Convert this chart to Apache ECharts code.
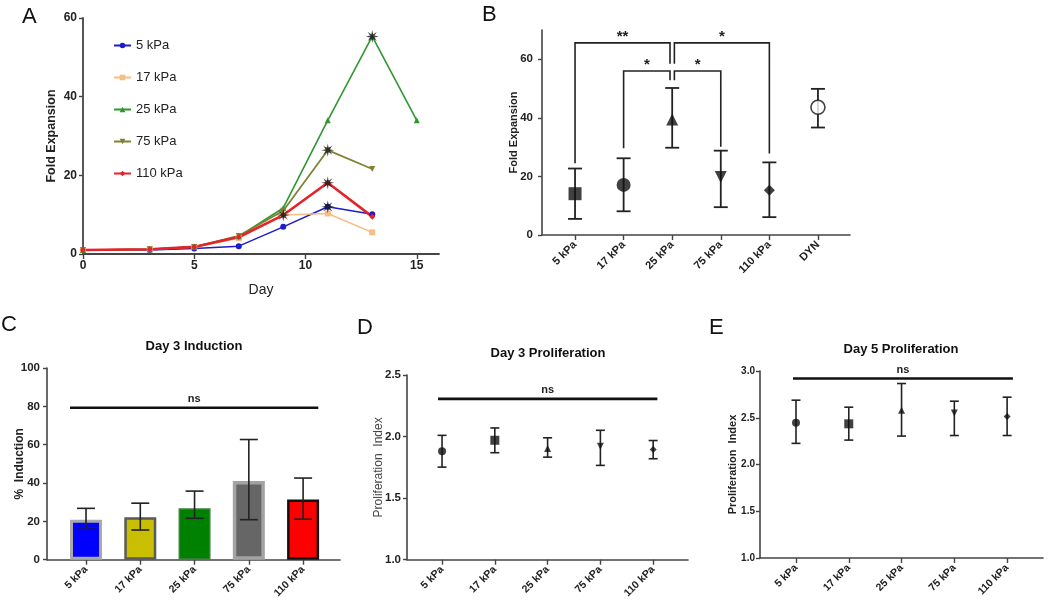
<!DOCTYPE html>
<html><head><meta charset="utf-8">
<script src="https://cdn.jsdelivr.net/npm/echarts@6/dist/echarts.min.js"></script>
<style>html,body{margin:0;padding:0;background:#fff}#c{width:1050px;height:601px}</style>
</head><body><div id="c"></div>
<script>
const FONT = '"Liberation Sans", Arial, sans-serif';

// ---------- Panel A: fold expansion over time ----------
const aDays = [0, 3, 5, 7, 9, 11, 13, 15];
const aNames = ['5 kPa', '17 kPa', '25 kPa', '75 kPa', '110 kPa'];
const a5   = [1.0, 1.0, 1.4, 2.0, 6.9, 12.0, 10.1];
const a17  = [1.0, 1.2, 1.8, 4.0, 9.9, 10.3, 5.5];
const a25  = [1.0, 1.2, 1.8, 4.5, 11.7, 34.0, 55.3, 34.0];
const a75  = [1.0, 1.2, 1.8, 4.6, 11.0, 26.4, 21.6];
const a110 = [1.0, 1.2, 1.8, 4.3, 9.9, 18.1, 9.5];
const aStarDays = { '5 kPa': [11], '25 kPa': [13], '75 kPa': [11], '110 kPa': [9, 11] };
const aXTicks = [0, 5, 10, 15];

// ---------- Panel B: fold expansion by stiffness ----------
const bCats = ['5 kPa', '17 kPa', '25 kPa', '75 kPa', '110 kPa', 'DYN'];
const bMean = [14.1, 17.1, 39.4, 19.8, 15.3, 43.6];
const bLow  = [5.5, 8.1, 29.8, 9.5, 6.1, 36.7];
const bHigh = [22.7, 26.2, 50.2, 28.8, 24.8, 49.9];
const bYTicks = [0, 20, 40, 60];
// [xStart, xEnd, yTop, yLeftFoot, yRightFoot]
const bBrackets = [[0, 1.955, 65.6, 24.5, 58.5], [2.045, 4, 65.6, 58.5, 27.8], [1, 1.955, 56.0, 29.6, 52.8], [2.045, 3, 56.0, 52.8, 30.1]];
const bBracketLabels = ['**', '*', '*', '*'];

// ---------- Panel C: day 3 induction ----------
const cCats = ['5 kPa', '17 kPa', '25 kPa', '75 kPa', '110 kPa'];
const cMean = [20.9, 22.1, 26.9, 41.1, 31.4];
const cLow  = [16.7, 15.5, 21.6, 20.9, 21.2];
const cHigh = [26.8, 29.5, 35.8, 62.7, 42.6];
const cNs = [[-0.295, 4.28, 79.3]];

// ---------- Panel D: day 3 proliferation ----------
const dCats = ['5 kPa', '17 kPa', '25 kPa', '75 kPa', '110 kPa'];
const dMean = [1.881, 1.970, 1.903, 1.922, 1.895];
const dLow  = [1.752, 1.869, 1.833, 1.766, 1.820];
const dHigh = [2.010, 2.070, 1.990, 2.051, 1.968];
const dNs = [[-0.076, 4.08, 2.306]];

// ---------- Panel E: day 5 proliferation ----------
const eCats = ['5 kPa', '17 kPa', '25 kPa', '75 kPa', '110 kPa'];
const eMean = [2.446, 2.435, 2.581, 2.552, 2.513];
const eLow  = [2.226, 2.261, 2.304, 2.310, 2.310];
const eHigh = [2.688, 2.613, 2.866, 2.677, 2.720];
const eNs = [[-0.057, 4.11, 2.92]];

// ---------- styling helpers ----------
const INV_TRI = 'path://M0,0L10,0L5,9Z';
const STAR = (function () {
  const p = [];
  for (let i = 0; i < 16; i++) {
    const a = i * Math.PI / 8, r = i % 2 ? 3.6 : 10;
    p.push((10 + r * Math.cos(a)).toFixed(2) + ',' + (10 + r * Math.sin(a)).toFixed(2));
  }
  return 'path://M' + p.join('L') + 'Z';
})();
const catSymbols = ['rect', 'circle', 'triangle', INV_TRI, 'diamond'];
const AX = '#444';

function xCatAxis(gi, min, max, cats, fs) {
  const idx = cats.map((_, i) => i);
  return {
    type: 'value', gridIndex: gi, min: min, max: max,
    splitLine: { show: false },
    axisLine: { onZero: false, lineStyle: { color: AX, width: 1.6 } },
    axisTick: { customValues: idx, length: 5, lineStyle: { color: AX, width: 1.4 } },
    axisLabel: { customValues: idx, formatter: v => cats[Math.round(v)], rotate: 45, margin: 8,
      fontFamily: FONT, fontWeight: 'bold', fontSize: fs, color: '#222' }
  };
}
function yValAxis(gi, opt, name, nameStyle, gap) {
  return Object.assign({
    type: 'value', gridIndex: gi,
    splitLine: { show: false },
    axisLine: { show: true, onZero: false, lineStyle: { color: AX, width: 1.6 } },
    axisTick: { show: true, length: 4, lineStyle: { color: AX, width: 1.4 } },
    axisLabel: { fontFamily: FONT, fontWeight: 'bold', fontSize: 11.5, color: '#222', margin: 7 },
    name: name, nameLocation: 'middle', nameGap: gap, nameRotate: 90, nameMoveOverlap: false,
    nameTextStyle: Object.assign({ fontFamily: FONT }, nameStyle)
  }, opt);
}
function errSeries(ax, low, high, cap, lw) {
  return {
    type: 'custom', xAxisIndex: ax, yAxisIndex: ax, z: 3,
    data: low.map((l, i) => [i, l, high[i]]),
    encode: { x: 0, y: [1, 2] },
    renderItem: function (params, api) {
      const x = api.value(0);
      const pH = api.coord([x, api.value(2)]), pL = api.coord([x, api.value(1)]);
      const st = { stroke: '#222', lineWidth: lw };
      return { type: 'group', children: [
        { type: 'line', shape: { x1: pH[0], y1: pH[1], x2: pL[0], y2: pL[1] }, style: st },
        { type: 'line', shape: { x1: pH[0] - cap, y1: pH[1], x2: pH[0] + cap, y2: pH[1] }, style: st },
        { type: 'line', shape: { x1: pL[0] - cap, y1: pL[1], x2: pL[0] + cap, y2: pL[1] }, style: st }
      ] };
    }
  };
}
function nsSeries(ax, ns) {
  return {
    type: 'custom', xAxisIndex: ax, yAxisIndex: ax, z: 4,
    data: ns, encode: { x: [0, 1], y: 2 },
    renderItem: function (params, api) {
      const p1 = api.coord([api.value(0), api.value(2)]), p2 = api.coord([api.value(1), api.value(2)]);
      return { type: 'group', children: [
        { type: 'line', shape: { x1: p1[0], y1: p1[1], x2: p2[0], y2: p2[1] }, style: { stroke: '#111', lineWidth: 2.6 } },
        { type: 'text', x: (p1[0] + p2[0]) / 2, y: p1[1] - 3,
          style: { text: 'ns', textAlign: 'center', textVerticalAlign: 'bottom', font: 'bold 11px ' + FONT, fill: '#222' } }
      ] };
    }
  };
}
function markerSeries(ax, mean, sizes, extra) {
  return {
    type: 'scatter', xAxisIndex: ax, yAxisIndex: ax, z: 5,
    data: mean.map((v, i) => Object.assign({ value: [i, v], symbol: catSymbols[i] || 'circle', symbolSize: sizes[i] }, (extra && extra[i]) || {})),
    itemStyle: { color: '#111' }
  };
}

// ---------- build option ----------
const aSeriesDefs = [
  { name: '5 kPa', vals: a5, color: '#1c1cc8', symbol: 'circle', size: 6, w: 1.5 },
  { name: '17 kPa', vals: a17, color: '#f6bd84', symbol: 'rect', size: 6, w: 1.6 },
  { name: '25 kPa', vals: a25, color: '#2f972f', symbol: 'triangle', size: 6, w: 1.6 },
  { name: '75 kPa', vals: a75, color: '#7f8232', symbol: INV_TRI, size: 6, w: 1.8 },
  { name: '110 kPa', vals: a110, color: '#e4232b', symbol: 'diamond', size: 6, w: 2.6 }
];
const series = [];
aSeriesDefs.forEach(d => {
  series.push({
    type: 'line', name: d.name, xAxisIndex: 0, yAxisIndex: 0,
    data: d.vals.map((v, i) => [aDays[i], v]),
    symbol: d.symbol, symbolSize: d.size, showAllSymbol: true,
    lineStyle: { color: d.color, width: d.w }, itemStyle: { color: d.color }, z: 2
  });
});
const starData = [];
aSeriesDefs.forEach(d => {
  (aStarDays[d.name] || []).forEach(day => {
    const i = aDays.indexOf(day);
    starData.push([day, d.vals[i]]);
  });
});
series.push({ type: 'scatter', xAxisIndex: 0, yAxisIndex: 0, data: starData, symbol: STAR, symbolSize: 13,
  itemStyle: { color: '#1a1a1a' }, z: 6 });

// B
series.push(errSeries(1, bLow, bHigh, 7, 1.8));
series.push(markerSeries(1, bMean, [13, 14, 12, 12, 11, 14], [null, null, null, null, null,
  { symbol: 'circle', itemStyle: { color: '#fff', borderColor: '#111', borderWidth: 1.6 } }]));
series.push({
  type: 'custom', xAxisIndex: 1, yAxisIndex: 1, z: 4,
  data: bBrackets, encode: { x: [0, 1], y: [2, 3, 4] },
  renderItem: function (params, api) {
    const x1 = api.value(0), x2 = api.value(1), yt = api.value(2);
    const a = api.coord([x1, api.value(3)]), b = api.coord([x1, yt]), c = api.coord([x2, yt]), d = api.coord([x2, api.value(4)]);
    return { type: 'group', children: [
      { type: 'polyline', shape: { points: [a, b, c, d] }, style: { stroke: '#222', lineWidth: 1.6, fill: null } },
      { type: 'text', x: (b[0] + c[0]) / 2, y: b[1] - 6,
        style: { text: bBracketLabels[params.dataIndex], textAlign: 'center', textVerticalAlign: 'middle', font: 'bold 15px ' + FONT, fill: '#222' } }
    ] };
  }
});

// C
const cStyles = [
  { color: '#0000ff', borderColor: '#a9a9a9', borderWidth: 3 },
  { color: '#c9bf00', borderColor: '#5a5a5a', borderWidth: 2.5 },
  { color: '#008000', borderColor: '#3f7f3f', borderWidth: 1.5 },
  { color: '#666666', borderColor: '#a3a3a3', borderWidth: 3.5 },
  { color: '#ff0000', borderColor: '#111111', borderWidth: 2.5 }
];
series.push({
  type: 'bar', xAxisIndex: 2, yAxisIndex: 2, barWidth: 32, z: 2,
  data: cMean.map((v, i) => ({ value: [i, v], itemStyle: cStyles[i] }))
});
series.push(errSeries(2, cLow, cHigh, 9, 1.6));
series.push(nsSeries(2, cNs));

// D
series.push(errSeries(3, dLow, dHigh, 4.5, 1.6));
series.push(markerSeries(3, dMean, [8, 9, 7, 7, 7], [{ symbol: 'circle' }, { symbol: 'rect' }, null, null, null]));
series.push(nsSeries(3, dNs));

// E
series.push(errSeries(4, eLow, eHigh, 4.5, 1.6));
series.push(markerSeries(4, eMean, [8, 9, 7, 7, 7], [{ symbol: 'circle' }, { symbol: 'rect' }, null, null, null]));
series.push(nsSeries(4, eNs));

const option = {
  animation: false,
  backgroundColor: '#fff',
  textStyle: { fontFamily: FONT },
  legend: {
    data: aNames, orient: 'vertical', left: 108, top: 33,
    itemWidth: 17, itemHeight: 7, itemGap: 17,
    textStyle: { fontFamily: FONT, fontSize: 13, color: '#222', lineHeight: 15 }
  },
  grid: [
    { left: 83, top: 18, width: 356, height: 236 },
    { left: 542, top: 30, width: 308, height: 205 },
    { left: 47, top: 368, width: 293, height: 193 },
    { left: 407, top: 375, width: 281, height: 186 },
    { left: 760, top: 371, width: 283, height: 187 }
  ],
  xAxis: [
    {
      type: 'value', gridIndex: 0, min: 0, max: 16,
      splitLine: { show: false },
      axisLine: { onZero: false, lineStyle: { color: AX, width: 1.8 } },
      axisTick: { customValues: aXTicks, length: 5, lineStyle: { color: AX, width: 1.4 } },
      axisLabel: { customValues: aXTicks, fontFamily: FONT, fontWeight: 'bold', fontSize: 12, color: '#222', margin: 6 },
      name: 'Day', nameLocation: 'middle', nameGap: 29, nameMoveOverlap: false,
      nameTextStyle: { fontFamily: FONT, fontSize: 14, color: '#222' }
    },
    xCatAxis(1, -0.68, 5.66, bCats, 11),
    xCatAxis(2, -0.719, 4.68, cCats, 10.5),
    xCatAxis(3, -0.664, 4.66, dCats, 10.5),
    xCatAxis(4, -0.682, 4.68, eCats, 10.5)
  ],
  yAxis: [
    yValAxis(0, { min: 0, max: 60, interval: 20, axisLabel: { fontFamily: FONT, fontWeight: 'bold', fontSize: 12, color: '#222', margin: 6 },
      axisLine: { show: true, onZero: false, lineStyle: { color: AX, width: 1.8 } } },
      'Fold Expansion', { fontWeight: 'bold', fontSize: 12.5, color: '#222' }, 25),
    yValAxis(1, { min: 0, max: 70,
      axisTick: { show: true, customValues: bYTicks, length: 4, lineStyle: { color: AX, width: 1.4 } },
      axisLabel: { customValues: bYTicks, fontFamily: FONT, fontWeight: 'bold', fontSize: 11.5, color: '#222', margin: 9 } },
      'Fold Expansion', { fontWeight: 'bold', fontSize: 11, color: '#222' }, 23),
    yValAxis(2, { min: 0, max: 100, interval: 20 },
      '%  Induction', { fontWeight: 'bold', fontSize: 12, color: '#222' }, 21),
    yValAxis(3, { min: 1, max: 2.5, interval: 0.5,
      axisLabel: { formatter: v => v.toFixed(1), fontFamily: FONT, fontWeight: 'bold', fontSize: 11.5, color: '#222', margin: 6 } },
      'Proliferation  Index', { fontWeight: 'normal', fontSize: 12, color: '#444' }, 22),
    yValAxis(4, { min: 1, max: 3, interval: 0.5,
      axisLabel: { formatter: v => v.toFixed(1), fontFamily: FONT, fontWeight: 'bold', fontSize: 10, color: '#222', margin: 5 } },
      'Proliferation  Index', { fontWeight: 'bold', fontSize: 11, color: '#222' }, 22)
  ],
  graphic: [
    { type: 'text', left: 22, top: 6, style: { text: 'A', font: '22px ' + FONT, fill: '#111' } },
    { type: 'text', left: 482, top: 4, style: { text: 'B', font: '22px ' + FONT, fill: '#111' } },
    { type: 'text', left: 1, top: 314, style: { text: 'C', font: '22px ' + FONT, fill: '#111' } },
    { type: 'text', left: 357, top: 317, style: { text: 'D', font: '22px ' + FONT, fill: '#111' } },
    { type: 'text', left: 709, top: 317, style: { text: 'E', font: '22px ' + FONT, fill: '#111' } },
    { type: 'text', x: 194, y: 346, style: { text: 'Day 3 Induction', textAlign: 'center', textVerticalAlign: 'middle', font: 'bold 13px ' + FONT, fill: '#111' } },
    { type: 'text', x: 548, y: 353, style: { text: 'Day 3 Proliferation', textAlign: 'center', textVerticalAlign: 'middle', font: 'bold 13px ' + FONT, fill: '#111' } },
    { type: 'text', x: 901, y: 349, style: { text: 'Day 5 Proliferation', textAlign: 'center', textVerticalAlign: 'middle', font: 'bold 13px ' + FONT, fill: '#111' } }
  ],
  series: series
};
const chart = echarts.init(document.getElementById('c'), null, { renderer: 'canvas' });
chart.setOption(option);
</script>
</body></html>
